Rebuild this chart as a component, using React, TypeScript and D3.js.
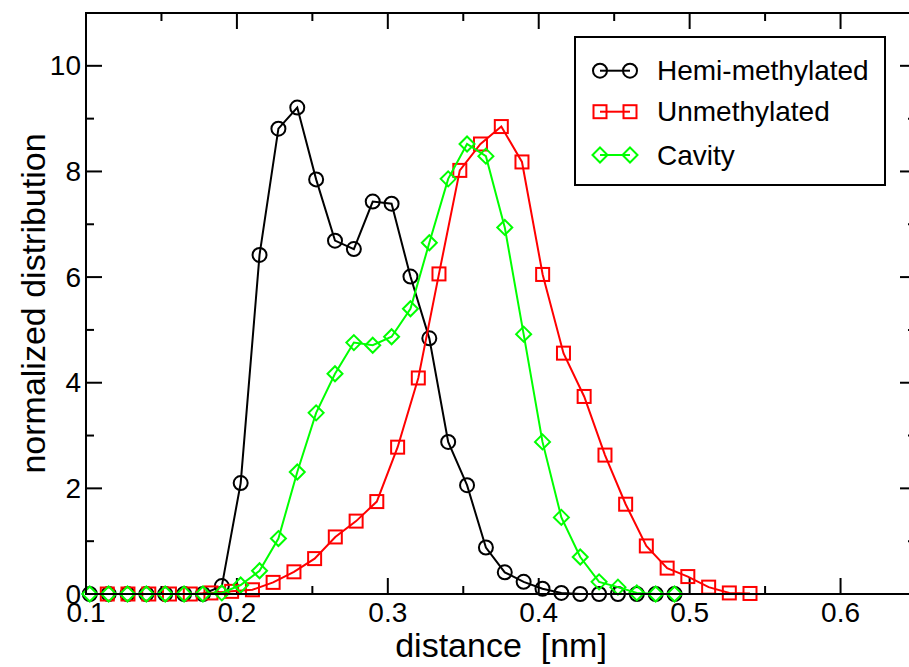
import React from "react";
import * as d3 from "d3";

// Hemi-methylated and Cavity share the same bins
const binsHC: number[] = [
  0.1025, 0.115, 0.1275, 0.14, 0.1525, 0.165, 0.1775, 0.19, 0.2025, 0.215,
  0.2275, 0.24, 0.2525, 0.265, 0.2775, 0.29, 0.3025, 0.315, 0.3275, 0.34,
  0.3525, 0.365, 0.3775, 0.39, 0.4025, 0.415, 0.4275, 0.44, 0.4525, 0.465,
  0.4775, 0.49,
];
const hemi: number[] = [
  0, 0, 0, 0, 0, 0, 0, 0.15, 2.1, 6.42, 8.81, 9.21, 7.85, 6.69, 6.53, 7.43,
  7.39, 6.01, 4.84, 2.88, 2.06, 0.88, 0.41, 0.23, 0.1, 0.02, 0, 0, 0, 0, 0, 0,
];
const cavity: number[] = [
  0, 0, 0, 0, 0, 0, 0, 0.02, 0.17, 0.44, 1.05, 2.31, 3.43, 4.17, 4.76, 4.71,
  4.87, 5.4, 6.65, 7.86, 8.52, 8.29, 6.94, 4.92, 2.88, 1.45, 0.7, 0.23, 0.13,
  0.02, 0, 0,
];
const binsU: number[] = [
  0.1141, 0.1278, 0.1416, 0.1553, 0.1691, 0.1828, 0.1965, 0.2103, 0.224,
  0.2378, 0.2515, 0.2652, 0.279, 0.2927, 0.3065, 0.3202, 0.3339, 0.3477,
  0.3614, 0.3752, 0.3889, 0.4026, 0.4164, 0.4301, 0.4439, 0.4576, 0.4713,
  0.4851, 0.4988, 0.5126, 0.5263, 0.54,
];
const unmeth: number[] = [
  0, 0, 0, 0, 0, 0.02, 0.05, 0.08, 0.22, 0.42, 0.67, 1.08, 1.38, 1.75, 2.78,
  4.09, 6.06, 8.02, 8.52, 8.85, 8.18, 6.05, 4.56, 3.74, 2.63, 1.7, 0.91, 0.49,
  0.33, 0.13, 0.02, 0.01,
];

const xMajor: number[] = [0.1, 0.2, 0.3, 0.4, 0.5, 0.6];
const xMinor: number[] = [0.15, 0.25, 0.35, 0.45, 0.55, 0.65];
const yMajor: number[] = [0, 2, 4, 6, 8, 10];
const yMinor: number[] = [1, 3, 5, 7, 9, 11];

const seriesNames: string[] = ["Hemi-methylated", "Unmethylated", "Cavity"];

const W = 909;
const H = 667;
const L = 86;
const R = 916;
const T = 13;
const B = 594;
const FONT = "'Liberation Sans', Arial, Helvetica, sans-serif";

type Kind = "circle" | "square" | "diamond";

function Marker({ x, y, kind, color }: { x: number; y: number; kind: Kind; color: string }) {
  if (kind === "circle")
    return <circle cx={x} cy={y} r={7} fill="none" stroke={color} strokeWidth={2} />;
  if (kind === "square")
    return <rect x={x - 6.5} y={y - 6.5} width={13} height={13} fill="none" stroke={color} strokeWidth={2} />;
  const s = 7.5;
  return (
    <polygon
      points={`${x},${y - s} ${x + s},${y} ${x},${y + s} ${x - s},${y}`}
      fill="none"
      stroke={color}
      strokeWidth={2}
    />
  );
}

export default function App() {
  const x = d3.scaleLinear().domain([0.1, 0.65]).range([L, R]);
  const y = d3.scaleLinear().domain([0, 11]).range([B, T]);

  const series = [
    { name: seriesNames[0], xs: binsHC, ys: hemi, color: "#000000", kind: "circle" as Kind },
    { name: seriesNames[1], xs: binsU, ys: unmeth, color: "#ff0000", kind: "square" as Kind },
    { name: seriesNames[2], xs: binsHC, ys: cavity, color: "#00ff00", kind: "diamond" as Kind },
  ];

  const line = d3
    .line<[number, number]>()
    .x((d) => x(d[0]))
    .y((d) => y(d[1]));

  const legendRows = [70.7, 111.7, 155];

  return (
    <svg
      width={W}
      height={H}
      style={{ position: "absolute", left: 0, top: 0, background: "#fff" }}
      fontFamily={FONT}
    >
      <rect x={0} y={0} width={W} height={H} fill="#fff" />
      {/* ticks */}
      <g stroke="#000" strokeWidth={2}>
        {xMajor.map((v) => (
          <g key={"xm" + v}>
            <line x1={x(v)} x2={x(v)} y1={B} y2={B - 16} />
            <line x1={x(v)} x2={x(v)} y1={T} y2={T + 16} />
          </g>
        ))}
        {xMinor.map((v) => (
          <g key={"xn" + v}>
            <line x1={x(v)} x2={x(v)} y1={B} y2={B - 8} />
            <line x1={x(v)} x2={x(v)} y1={T} y2={T + 8} />
          </g>
        ))}
        {yMajor.map((v) => (
          <g key={"ym" + v}>
            <line x1={L} x2={L + 16} y1={y(v)} y2={y(v)} />
            <line x1={R} x2={R - 16} y1={y(v)} y2={y(v)} />
          </g>
        ))}
        {yMinor.map((v) => (
          <g key={"yn" + v}>
            <line x1={L} x2={L + 8} y1={y(v)} y2={y(v)} />
            <line x1={R} x2={R - 8} y1={y(v)} y2={y(v)} />
          </g>
        ))}
      </g>
      {/* series */}
      {series.map((s) => {
        const pts: [number, number][] = s.xs.map((xv, i) => [xv, s.ys[i]]);
        return (
          <g key={s.name}>
            <path d={line(pts) || ""} fill="none" stroke={s.color} strokeWidth={2} />
            {pts.map((p, i) => (
              <Marker key={i} x={x(p[0])} y={y(p[1])} kind={s.kind} color={s.color} />
            ))}
          </g>
        );
      })}
      {/* frame */}
      <rect x={L} y={T} width={R - L} height={B - T} fill="none" stroke="#000" strokeWidth={2} />
      {/* tick labels */}
      <g fontSize={28} fill="#000">
        {xMajor.map((v) => (
          <text key={"xl" + v} x={x(v)} y={B + 28} textAnchor="middle">
            {d3.format(".1f")(v)}
          </text>
        ))}
        {yMajor.map((v) => (
          <text key={"yl" + v} x={L - 5} y={y(v)} textAnchor="end" dominantBaseline="central">
            {v}
          </text>
        ))}
      </g>
      {/* axis titles */}
      <text x={(L + R) / 2} y={657} fontSize={34} textAnchor="middle" xmlSpace="preserve">
        {"distance  [nm]"}
      </text>
      <text
        transform={`translate(45, ${(T + B) / 2}) rotate(-90)`}
        fontSize={34}
        textAnchor="middle"
      >
        normalized distribution
      </text>
      {/* legend */}
      <rect x={575} y={37} width={310} height={148} fill="#fff" stroke="#000" strokeWidth={2} />
      {series.map((s, i) => (
        <g key={"lg" + s.name}>
          <line x1={600} x2={630} y1={legendRows[i]} y2={legendRows[i]} stroke={s.color} strokeWidth={2} />
          <Marker x={600} y={legendRows[i]} kind={s.kind} color={s.color} />
          <Marker x={630} y={legendRows[i]} kind={s.kind} color={s.color} />
          <text x={657} y={legendRows[i]} fontSize={28} dominantBaseline="central">
            {s.name}
          </text>
        </g>
      ))}
    </svg>
  );
}
